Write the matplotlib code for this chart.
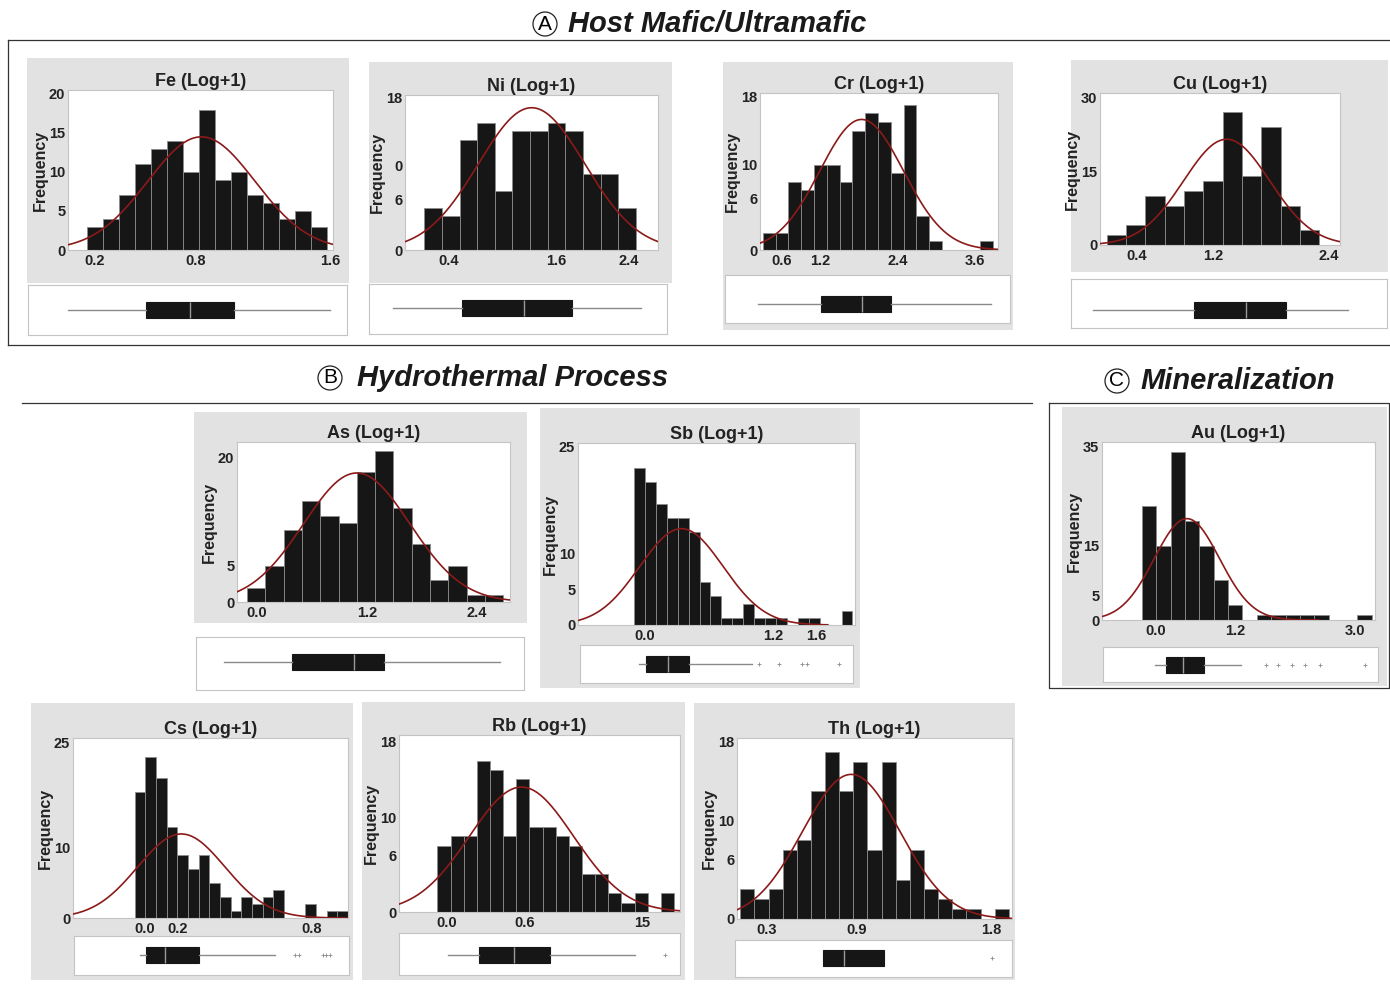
import numpy as np
import matplotlib
matplotlib.use('Agg')
import matplotlib.pyplot as plt
from matplotlib.patches import Rectangle
from matplotlib.lines import Line2D

plt.rcParams['font.family'] = ['Liberation Sans', 'DejaVu Sans']

W, H = 1390, 994

# ==================== data ====================
# counts per bin, first bin edge + bin width, normal fit (mean, sd, peak, curve end),
# box stats (whisker lo, q1, median, q3, whisker hi), outliers, tick labels
fe_counts = [3, 4, 7, 11, 13, 14, 10, 18, 9, 10, 7, 6, 4, 5, 3]
fe_bins = (0.156, 0.0953)
fe_fit = (0.835, 0.32, 14.5, 1.62)
fe_box = (0.041, 0.508, 0.766, 1.028, 1.60)
fe_fliers = []
fe_xticks, fe_xlabels = [0.2, 0.8, 1.6], ['0.2', '0.8', '1.6']
fe_yticks, fe_ylabels = [0, 5, 10, 15, 20], ['0', '5', '10', '15', '20']

ni_counts = [5, 4, 13, 15, 7, 14, 14, 15, 14, 9, 9, 5]
ni_bins = (0.133, 0.196)
ni_fit = (1.326, 0.59, 16.8, 2.73)
ni_box = (-0.211, 0.548, 1.244, 1.778, 2.54)
ni_fliers = []
ni_xticks, ni_xlabels = [0.4, 1.6, 2.4], ['0.4', '1.6', '2.4']
ni_yticks, ni_ylabels = [0, 6, 10, 18], ['0', '6', '0', '18']

cr_counts = [2, 2, 8, 7, 10, 10, 8, 14, 16, 15, 9, 17, 4, 1, 0, 0, 0, 1]
cr_bins = (0.302, 0.199)
cr_fit = (1.84, 0.65, 15.3, 3.96)
cr_box = (0.235, 1.208, 1.840, 2.296, 3.844)
cr_fliers = []
cr_xticks, cr_xlabels = [0.6, 1.2, 2.4, 3.6], ['0.6', '1.2', '2.4', '3.6']
cr_yticks, cr_ylabels = [0, 6, 10, 18], ['0', '6', '10', '18']

cu_counts = [2, 4, 10, 8, 11, 13, 27, 14, 24, 8, 3]
cu_bins = (0.087, 0.2017)
cu_fit = (1.339, 0.45, 21.5, 2.52)
cu_box = (-0.052, 1.002, 1.537, 1.955, 2.609)
cu_fliers = []
cu_xticks, cu_xlabels = [0.4, 1.2, 2.4], ['0.4', '1.2', '2.4']
cu_yticks, cu_ylabels = [0, 15, 30], ['0', '15', '30']

as_counts = [2, 5, 10, 14, 12, 11, 18, 21, 13, 8, 3, 5, 1, 1]
as_bins = (-0.109, 0.2)
as_fit = (1.09, 0.58, 17.9, 2.76)
as_box = (-0.364, 0.382, 1.055, 1.393, 2.655)
as_fliers = []
as_xticks, as_xlabels = [0.0, 1.2, 2.4], ['0.0', '1.2', '2.4']
as_yticks, as_ylabels = [0, 5, 20], ['0', '5', '20']

sb_counts = [22, 20, 17, 15, 15, 13, 6, 4, 1, 1, 3, 1, 1, 1, 0, 1, 1, 0, 0, 2]
sb_bins = (-0.1, 0.102)
sb_fit = (0.343, 0.39, 13.5, 1.71)
sb_box = (-0.053, 0.009, 0.218, 0.411, 0.998)
sb_fliers = [1.066, 1.256, 1.465, 1.512, 1.814]
sb_xticks, sb_xlabels = [0.0, 1.2, 1.6], ['0.0', '1.2', '1.6']
sb_yticks, sb_ylabels = [0, 5, 10, 25], ['0', '5', '10', '25']

au_counts = [23, 15, 34, 20, 15, 8, 3, 0, 1, 1, 1, 1, 1, 0, 0, 1]
au_bins = (-0.2, 0.2156)
au_fit = (0.475, 0.49, 20.5, 2.45)
au_box = (-0.01, 0.16, 0.41, 0.725, 1.29)
au_fliers = [1.66, 1.84, 2.05, 2.25, 2.475, 3.15]
au_xticks, au_xlabels = [0.0, 1.2, 3.0], ['0.0', '1.2', '3.0']
au_yticks, au_ylabels = [0, 5, 15, 35], ['0', '5', '15', '35']

cs_counts = [18, 23, 20, 13, 9, 7, 9, 5, 3, 1, 3, 2, 3, 4, 0, 0, 2, 0, 1, 1]
cs_bins = (-0.048, 0.0512)
cs_fit = (0.176, 0.21, 12.0, 0.976)
cs_box = (-0.024, 0.008, 0.096, 0.261, 0.624)
cs_fliers = [0.72, 0.739, 0.856, 0.872, 0.888]
cs_xticks, cs_xlabels = [0.0, 0.16, 0.8], ['0.0', '0.2', '0.8']
cs_yticks, cs_ylabels = [0, 10, 25], ['0', '10', '25']

rb_counts = [7, 8, 8, 16, 15, 8, 14, 9, 9, 8, 7, 4, 4, 2, 1, 2, 0, 2]
rb_bins = (-0.074, 0.101)
rb_fit = (0.572, 0.40, 13.2, 1.79)
rb_box = (0.008, 0.246, 0.515, 0.795, 1.444)
rb_fliers = [1.674]
rb_xticks, rb_xlabels = [0.0, 0.6, 1.5], ['0.0', '0.6', '15']
rb_yticks, rb_ylabels = [0, 6, 10, 18], ['0', '6', '10', '18']

th_counts = [3, 2, 3, 7, 8, 13, 17, 13, 16, 7, 16, 4, 7, 3, 2, 1, 1, 0, 1]
th_bins = (0.124, 0.0944)
th_fit = (0.865, 0.325, 14.7, 1.94)
th_box = (0.676, 0.676, 0.819, 1.086, 1.086)
th_fliers = [1.806]
th_xticks, th_xlabels = [0.3, 0.9, 1.8], ['0.3', '0.9', '1.8']
th_yticks, th_ylabels = [0, 6, 10, 18], ['0', '6', '10', '18']

# ==================== layout (pixels, y from top) ====================
# name, data, xlim, ylim, gray bg, hist rect, box rect, box centre y
panels = [
    ('Fe', fe_counts, fe_bins, fe_fit, fe_box, fe_fliers, fe_xticks, fe_xlabels, fe_yticks, fe_ylabels,
     (0.041, 1.619), (0, 20.5), (27, 58, 349, 283), (68, 90, 333, 250), (28, 285, 347, 335), 310),
    ('Ni', ni_counts, ni_bins, ni_fit, ni_box, ni_fliers, ni_xticks, ni_xlabels, ni_yticks, ni_ylabels,
     (-0.081, 2.73), (0, 18.3), (369, 62, 672, 283), (405, 95, 658, 250), (369, 284, 667, 334), 308),
    ('Cr', cr_counts, cr_bins, cr_fit, cr_box, cr_fliers, cr_xticks, cr_xlabels, cr_yticks, cr_ylabels,
     (0.26, 3.96), (0, 18.4), (723, 62, 1013, 330), (760, 93, 998, 250), (725, 275, 1010, 323), 303.5),
    ('Cu', cu_counts, cu_bins, cu_fit, cu_box, cu_fliers, cu_xticks, cu_xlabels, cu_yticks, cu_ylabels,
     (0.017, 2.522), (0, 30.9), (1071, 60, 1388, 272), (1100, 93, 1340, 245), (1071, 279, 1387, 328), 310),
    ('As', as_counts, as_bins, as_fit, as_box, as_fliers, as_xticks, as_xlabels, as_yticks, as_ylabels,
     (-0.218, 2.764), (0, 22.2), (194, 412, 527, 623), (237, 442, 510, 602), (196, 637, 524, 690), 662),
    ('Sb', sb_counts, sb_bins, sb_fit, sb_box, sb_fliers, sb_xticks, sb_xlabels, sb_yticks, sb_ylabels,
     (-0.623, 1.964), (0, 25.5), (540, 408, 860, 688), (578, 443, 855, 625), (580, 645, 853, 683), 664),
    ('Au', au_counts, au_bins, au_fit, au_box, au_fliers, au_xticks, au_xlabels, au_yticks, au_ylabels,
     (-0.8, 3.3), (0, 36.0), (1062, 407, 1387, 686), (1102, 442, 1375, 620), (1103, 647, 1378, 682), 665),
    ('Cs', cs_counts, cs_bins, cs_fit, cs_box, cs_fliers, cs_xticks, cs_xlabels, cs_yticks, cs_ylabels,
     (-0.344, 0.976), (0, 25.7), (31, 703, 353, 980), (73, 738, 348, 918), (74, 936, 349, 975), 955),
    ('Rb', rb_counts, rb_bins, rb_fit, rb_box, rb_fliers, rb_xticks, rb_xlabels, rb_yticks, rb_ylabels,
     (-0.369, 1.79), (0, 18.7), (362, 702, 685, 980), (399, 735, 680, 912), (399, 933, 680, 975), 954.5),
    ('Th', th_counts, th_bins, th_fit, th_box, th_fliers, th_xticks, th_xlabels, th_yticks, th_ylabels,
     (0.102, 1.939), (0, 18.4), (694, 703, 1015, 980), (737, 738, 1012, 919), (735, 940, 1012, 977), 957.5),
]

BG_GRAY = '#e2e2e2'
BAR_COL = '#161616'
FIT_COL = '#8b1a1a'
FRAME_COL = '#c4c4c4'
BOX_H_PX = 16

fig = plt.figure(figsize=(W / 100, H / 100), dpi=100)
fig.patch.set_facecolor('white')


def px_axes(r):
    x0, y0, x1, y1 = r
    return fig.add_axes([x0 / W, 1 - y1 / H, (x1 - x0) / W, (y1 - y0) / H])


def px_rect(r, **kw):
    x0, y0, x1, y1 = r
    fig.add_artist(Rectangle((x0 / W, 1 - y1 / H), (x1 - x0) / W, (y1 - y0) / H,
                             transform=fig.transFigure, zorder=-5, **kw))


def px_line(xs, ys, **kw):
    fig.add_artist(Line2D([x / W for x in xs], [1 - y / H for y in ys],
                          transform=fig.transFigure, **kw))


for (name, counts, bins, fit, box, fliers, xt, xl, yt, yl,
     xlim, ylim, bg, hr, br, yc) in panels:
    px_rect(bg, facecolor=BG_GRAY, edgecolor='none')

    # ---- histogram ----
    ax = px_axes(hr)
    ax.set_facecolor('white')
    edges = bins[0] + bins[1] * np.arange(len(counts))
    ax.bar(edges, counts, width=bins[1], align='edge', color=BAR_COL,
           edgecolor='#8c8c8c', linewidth=0.6, zorder=2)
    mu, sd, peak, xend = fit
    xs = np.linspace(xlim[0], xend, 300)
    ax.plot(xs, peak * np.exp(-0.5 * ((xs - mu) / sd) ** 2), color=FIT_COL, lw=1.2, zorder=3)
    ax.set_xlim(xlim)
    ax.set_ylim(ylim)
    ax.set_xticks(xt)
    ax.set_xticklabels(xl, fontsize=10.5, fontweight='bold', color='#222222')
    ax.set_yticks(yt)
    ax.set_yticklabels(yl, fontsize=10.5, fontweight='bold', color='#222222')
    ax.tick_params(length=0, pad=2)
    ax.tick_params(axis='x', pad=3)
    for s in ax.spines.values():
        s.set_color(FRAME_COL)
        s.set_linewidth(0.8)
    ax.set_title(f'{name} (Log+1)', fontsize=13, fontweight='bold', pad=3, color='#222222')
    ax.set_ylabel('Frequency', fontsize=11.5, fontweight='bold', labelpad=1, color='#222222')

    # ---- box plot strip (same x scale as histogram) ----
    bx = px_axes(br)
    ppu = (hr[2] - hr[0]) / (xlim[1] - xlim[0])
    bx.set_xlim(xlim[0] + (br[0] - hr[0]) / ppu, xlim[1] + (br[2] - hr[2]) / ppu)
    bx.set_ylim(0, 1)
    bx.set_facecolor('white')
    lo, q1, med, q3, hi = box
    stats = [dict(whislo=lo, q1=q1, med=med, q3=q3, whishi=hi, fliers=fliers)]
    bh = br[3] - br[1]
    bx.bxp(stats, positions=[(br[3] - yc) / bh], widths=[BOX_H_PX / bh],
           orientation='horizontal', patch_artist=True, showcaps=False,
           boxprops=dict(facecolor=BAR_COL, edgecolor=BAR_COL, linewidth=0.8),
           medianprops=dict(color='#9a9a9a', linewidth=1),
           whiskerprops=dict(color='#8a8a8a', linewidth=1),
           flierprops=dict(marker='+', markersize=3, markeredgecolor='#8a8a8a',
                           markeredgewidth=0.6))
    bx.set_xticks([])
    bx.set_yticks([])
    for s in bx.spines.values():
        s.set_color(FRAME_COL)
        s.set_linewidth(0.8)

# ==================== section frames and headings ====================
px_line([8, 1390], [40, 40], color='#333333', lw=0.9)
px_line([8, 8], [40, 345], color='#333333', lw=0.9)
px_line([8, 1390], [345, 345], color='#333333', lw=0.9)
px_line([22, 1032], [403, 403], color='#333333', lw=0.9)
px_line([1049, 1389, 1389, 1049, 1049], [403, 403, 688, 688, 403], color='#333333', lw=0.9)

headings = [('A', 'Host Mafic/Ultramafic', 545, 568, 24),
            ('B', 'Hydrothermal Process', 330, 357, 378),
            ('C', 'Mineralization', 1117, 1140, 381)]
for letter, text, cx, tx, ty in headings:
    fig.text(cx / W, 1 - ty / H, letter, ha='center', va='center', fontsize=15,
             bbox=dict(boxstyle='circle,pad=0.12', facecolor='white', edgecolor='#222222', lw=0.9))
    fig.text(tx / W, 1 - ty / H, text, ha='left', va='center', fontsize=21,
             fontweight='bold', fontstyle='italic', color='#1a1a1a')

fig.savefig('out.png', dpi=100)
